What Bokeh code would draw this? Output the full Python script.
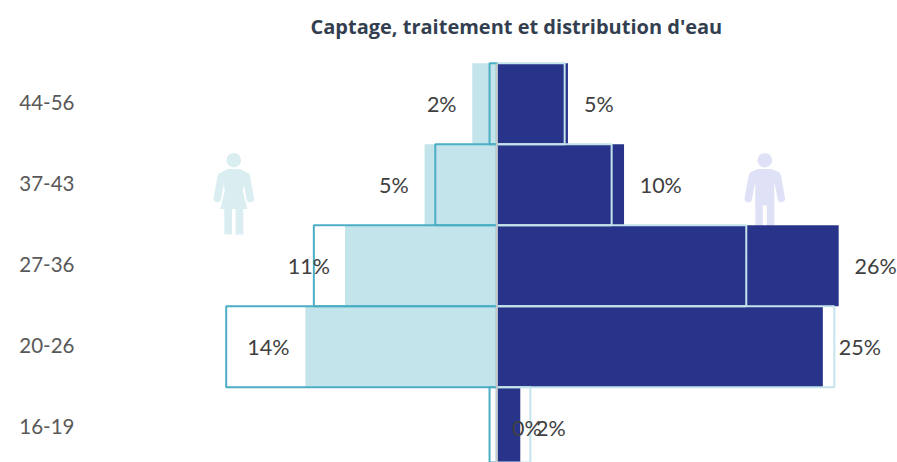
from bokeh.embed import file_html
from bokeh.resources import INLINE
from bokeh.plotting import figure
from bokeh.models import ColumnDataSource, Range1d, FixedTicker, Title
from bokeh.core.properties import value

# ---- data ----
age_groups = ["16-19", "20-26", "27-36", "37-43", "44-56"]
women_fill = [0.0, 14.5, 11.5, 5.47, 1.86]
women_outline = [0.55, 20.5, 13.86, 4.66, 0.55]
men_fill = [1.78, 24.7, 25.9, 9.64, 5.39]
men_outline = [2.54, 25.57, 18.9, 8.7, 5.14]
women_labels = ["0%", "14%", "11%", "5%", "2%"]
men_labels = ["2%", "25%", "26%", "10%", "5%"]
title_text = "Captage, traitement et distribution d'eau"

# ---- layout ----
W, H = 897, 462
FL, FT = 80, 50
PX = 13.2           # pixels per percentage point
X0 = 496.3          # zero line, figure pixels
ROW = 81.0
Y0 = 427.2          # centre of the first row, figure pixels
FONT = "Lato"
TXT = "#404040"
LIGHT = "#C3E4EA"
TEAL = "#4BAEC4"
NAVY = "#28348A"
W_ICON = "#DAEEF2"
M_ICON = "#DFE1F6"

def dx(px): return (px - X0) / PX
def dy(py): return (Y0 - py) / ROW

p = figure(width=W, height=H, output_backend="svg", toolbar_location=None,
           x_range=Range1d(dx(FL), dx(W)), y_range=Range1d(dy(H), dy(FT)),
           x_axis_location=None, min_border_left=FL, min_border_top=FT,
           min_border_right=0, min_border_bottom=0)
p.outline_line_color = None
p.grid.visible = False
p.background_fill_color = "white"
p.title = Title(text=title_text, text_font="Open Sans", text_font_style="bold",
                text_font_size="20px", text_color="#333F50", align="left", offset=230,
                standoff=21)

TICK_SHIFT = 0.02   # the axis labels sit a little above the row centres
ticks = [i + TICK_SHIFT for i in range(len(age_groups))]
ax = p.yaxis[0]
ax.ticker = FixedTicker(ticks=ticks)
ax.major_label_overrides = dict(zip(ticks, age_groups))
ax.axis_line_color = None
ax.major_tick_line_color = None
ax.minor_tick_line_color = None
ax.major_tick_out = 0
ax.major_tick_in = 0
ax.major_label_standoff = 6
ax.major_label_text_font = FONT
ax.major_label_text_font_size = "20.5px"
ax.major_label_text_color = "#595959"

# ---- pictograms (decorative) ----
def icon(cx, color, woman):
    to_x = lambda v: [dx(cx + a) for a in v]
    to_y = lambda v: [dy(b) for b in v]
    p.scatter(x=[dx(cx)], y=[dy(159.7)], size=14.6, marker="circle", fill_color=color, line_color=None)
    for s in (-1, 1):
        p.line(to_x([s * 12.5, s * 16.5]), to_y([176, 198]), line_color=color, line_width=7.5, line_cap="round")
    if woman:
        p.patch(to_x([-13, -6, 6, 13, 9, 13.5, -13.5, -9]), to_y([172, 168.5, 168.5, 172, 190, 208.5, 208.5, 190]),
                fill_color=color, line_color=None)
        for a, b in ((-9.5, -1.8), (1.8, 9.5)):
            p.patch(to_x([a, b, b, a]), to_y([207, 207, 234, 234]), fill_color=color, line_color=None)
    else:
        p.patch(to_x([-15, -7, 7, 15, 9.5, 9.5, -9.5, -9.5]), to_y([172, 168.5, 168.5, 172, 185, 205, 205, 185]),
                fill_color=color, line_color=None)
        for a, b in ((-9.5, -2), (2, 9.5)):
            p.patch(to_x([a, b, b, a]), to_y([200, 200, 226, 226]), fill_color=color, line_color=None)

icon(233.3, W_ICON, True)
icon(764.3, M_ICON, False)

# ---- bars ----
ys = list(range(len(age_groups)))
src = ColumnDataSource(dict(y=ys, wf=[-v for v in women_fill], wo=[-v for v in women_outline],
                            mf=men_fill, mo=men_outline, zero=[0] * len(ys)))
p.hbar(y="y", left="wf", right="zero", height=1, source=src, fill_color=LIGHT, line_color=None)
p.hbar(y="y", left="zero", right="mf", height=1, source=src, fill_color=NAVY, line_color=None)
p.hbar(y="y", left="zero", right="mo", height=1, source=src, fill_color=None, line_color=LIGHT, line_width=2)
p.hbar(y="y", left="wo", right="zero", height=1, source=src, fill_color=None, line_color=TEAL, line_width=2)
p.segment(x0=[0], x1=[0], y0=[dy(H)], y1=[dy(63)], line_color="#C8C8C8", line_width=2)

# ---- data labels ----
women_label_at = [2.27, -17.3, -14.24, -7.8, -4.17]
men_label_at = [4.09, 27.5, 28.7, 12.42, 7.73]
p.text(x=women_label_at, y=ys, text=women_labels, text_font=value(FONT), text_font_size="21.5px",
       text_color=TXT, text_align="center", text_baseline="middle")
p.text(x=men_label_at, y=ys, text=men_labels, text_font=value(FONT), text_font_size="21.5px",
       text_color=TXT, text_align="center", text_baseline="middle")

open("out.html", "w").write(file_html(p, INLINE))
